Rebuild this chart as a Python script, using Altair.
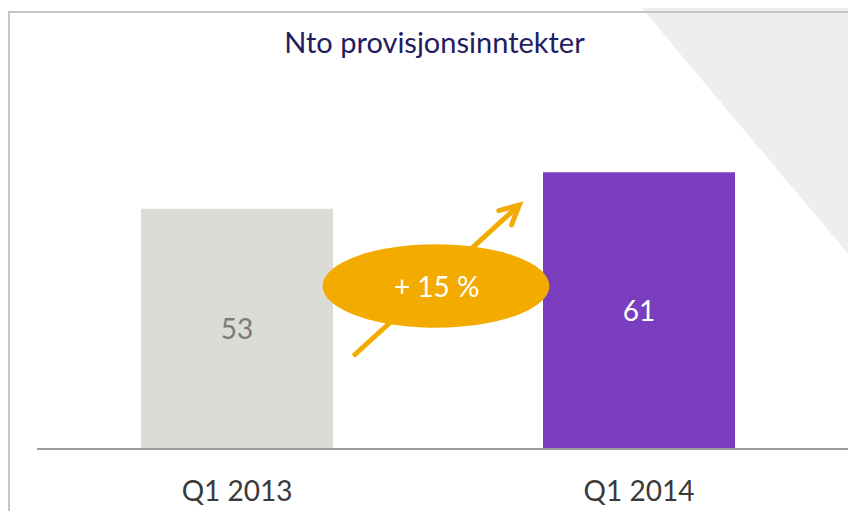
import altair as alt
import pandas as pd

# ---- data ----
TITLE = "Nto provisjonsinntekter"
CATEGORIES = ["Q1 2013", "Q1 2014"]
VALUES = [53, 61]
CHANGE_LABEL = "+ 15 %"

# ---- styles ----
GRAY_BAR = "#DCDCD6"
PURPLE = "#7A3DBD"
ORANGE = "#F4AB00"
FONT = "Lato"
W, H = 840, 503

df = pd.DataFrame({"category": CATEGORIES, "value": VALUES})
one = alt.Data(values=[{"k": 0}])

x_scale = alt.Scale(domain=CATEGORIES, paddingInner=0.5224, paddingOuter=0.306, align=0.5407)
y_scale = alt.Scale(domain=[-13.67, 97.24], nice=False, zero=False)

x_axis = alt.Axis(title=None, domain=False, ticks=False, tickSize=0, grid=False,
                  labelPadding=51, labelBaseline="alphabetic", labelFont=FONT,
                  labelFontSize=28, labelColor="#3A3A3A", labelAngle=0, offset=-62)
x_enc = alt.X("category:N", scale=x_scale, sort=CATEGORIES, axis=x_axis)

bars = alt.Chart(df).mark_bar().encode(
    x=x_enc,
    y=alt.Y("value:Q", scale=y_scale, axis=None),
    color=alt.Color("category:N", scale=alt.Scale(domain=CATEGORIES, range=[GRAY_BAR, PURPLE]), legend=None),
)

labels = alt.Chart(df).transform_calculate(mid="datum.value / 2").mark_text(
    font=FONT, fontSize=28, baseline="middle", align="center", dy=2
).encode(
    x=x_enc,
    y=alt.Y("mid:Q", scale=y_scale, axis=None),
    text=alt.Text("value:Q"),
    color=alt.condition(alt.datum.category == CATEGORIES[0], alt.value("#7B7B7B"), alt.value("#FFFFFF")),
)

# ---- decorations ----
TRIANGLE = "M 0 0 L 2.21 0 L 2.21 2.633 Z"
triangle = alt.Chart(one).mark_point(shape=TRIANGLE, size=40000, filled=True, color="#EEEEEE",
                                     opacity=1, strokeWidth=0).encode(x=alt.value(627), y=alt.value(-8))

frame_top = alt.Chart(one).mark_rule(color="#C6C6C6", strokeWidth=2).encode(
    x=alt.value(0), x2=alt.value(W), y=alt.value(4))
frame_left = alt.Chart(one).mark_rule(color="#C6C6C6", strokeWidth=2).encode(
    x=alt.value(1), y=alt.value(4), y2=alt.value(H))
baseline = alt.Chart(one).mark_rule(color="#9E9E9E", strokeWidth=2).encode(
    x=alt.value(29), x2=alt.value(W), y=alt.value(441))

shaft = alt.Chart(one).mark_rule(color=ORANGE, strokeWidth=5).encode(
    x=alt.value(345.3), y=alt.value(348), x2=alt.value(511.3), y2=alt.value(197))
CHEVRON = "M -1 -0.5 L 0 0 L -1 0.5"
head = alt.Chart(one).mark_point(shape=CHEVRON, size=1450, filled=False, color=ORANGE, opacity=1,
                                 strokeWidth=5, strokeCap="round", strokeJoin="miter",
                                 angle=318).encode(x=alt.value(511.3), y=alt.value(197))

ELLIPSE = ("M -1 0 C -1 -0.2033 -0.5523 -0.368 0 -0.368 C 0.5523 -0.368 1 -0.2033 1 0 "
           "C 1 0.2033 0.5523 0.368 0 0.368 C -0.5523 0.368 -1 0.2033 -1 0 Z")
ellipse = alt.Chart(one).mark_point(shape=ELLIPSE, size=51348, filled=True, color=ORANGE,
                                    opacity=1, strokeWidth=0).encode(x=alt.value(428), y=alt.value(278))

change_text = alt.Chart(pd.DataFrame({"t": [CHANGE_LABEL]})).mark_text(
    font=FONT, fontSize=28, color="#FFFFFF", align="center", baseline="alphabetic"
).encode(x=alt.value(428.7), y=alt.value(289.3), text="t:N")

title_text = alt.Chart(pd.DataFrame({"t": [TITLE]})).mark_text(
    font=FONT, fontSize=29, color="#231C5F", align="center", baseline="alphabetic"
).encode(x=alt.value(426.5), y=alt.value(45.3), text="t:N")

chart = alt.layer(
    triangle, frame_top, frame_left, bars, baseline, labels, shaft, head, ellipse, change_text, title_text
).properties(
    width=W, height=H, padding=0, autosize=alt.AutoSizeParams(type="none"), background="#FFFFFF"
).configure_view(stroke=None)

chart.save("out.html", embed_options={"renderer": "svg", "actions": False})
